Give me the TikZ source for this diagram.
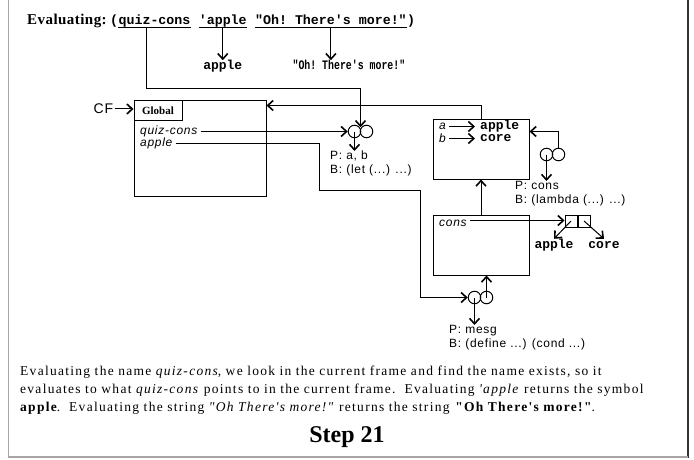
\documentclass[tikz,border=0pt]{standalone}
\usepackage{fontspec}
\newfontfamily\timesfont{Liberation Serif}
\setsansfont{Liberation Sans}
\setmonofont{Liberation Mono}
\usetikzlibrary{arrows.meta, positioning, calc}

\begin{document}
\begin{tikzpicture}[
    x=1pt, y=-1pt,
    envbox/.style={draw, line width=1pt, anchor=north west, inner sep=0pt},
    tag/.style={draw, line width=1pt, anchor=north west, font=\timesfont\bfseries\fontsize{11}{13}\selectfont, minimum width=48pt, minimum height=19pt, inner sep=0pt},
    var/.style={font=\sffamily\itshape\fontsize{12}{14}\selectfont\addfontfeature{LetterSpace=6}, inner sep=3pt, anchor=west},
    sym/.style={font=\ttfamily\bfseries\fontsize{13}{15}\selectfont, inner sep=0pt, text height=9pt, text depth=3pt},
    code/.style={font=\ttfamily\bfseries\fontsize{13.3}{15}\selectfont, inner sep=0pt, text height=9.5pt, text depth=2.5pt},
    ball/.style={draw, circle, line width=1pt, minimum size=12.5pt, inner sep=0pt},
    cell/.style={draw, line width=1pt, minimum size=12pt, inner sep=0pt},
    proc/.style={font=\sffamily\fontsize{12}{14}\selectfont\addfontfeature{LetterSpace=6}, align=left, anchor=north west, inner sep=0pt},
    arr/.style={-{Straight Barb[length=5.5pt,width=10pt,line width=1.6pt]}, line width=1pt}
]
    \useasboundingbox (0,0) rectangle (694,460);

    % page frame
    \draw[gray!70, line width=1pt] (8.5,-2) -- (8.5,457);
    \draw[black!80, line width=2pt] (688,-2) -- (688,458);
    \draw[gray!70, line width=2pt] (8,457) -- (688,457);

    % expression being evaluated
    \node[font=\timesfont\bfseries\fontsize{15}{17}\selectfont\addfontfeature{LetterSpace=3}, anchor=base west, inner sep=0pt] (evl) at (27,25) {Evaluating:};
    \node[code, anchor=base west] (lpar) at (110,25) {(};
    \node[code, right=0pt of lpar] (eqc) {quiz-cons};
    \node[code, right=8pt of eqc] (eap) {'apple};
    \node[code, right=8pt of eap] (eoh) {"Oh! There's more!"};
    \node[code, right=0pt of eoh] (rpar) {)};
    \foreach \n in {eqc, eap, eoh}
        \draw[line width=1pt] (\n.south west) -- (\n.south east);

    \node[sym, below=32.5pt of eap] (rap) {apple};
    \node[sym, font=\ttfamily\bfseries\fontsize{13}{15}\selectfont\addfontfeature{FakeStretch=0.76}, below=32.5pt of eoh, xshift=18pt] (roh) {"Oh! There's more!"};
    \draw[arr] (eap.south) -- (rap.north);
    \draw[arr] (eoh.south) -- (eoh.south |- roh.north);

    % global frame
    \node[envbox, minimum width=132pt, minimum height=95pt] (global) at (133.5,100.5) {};
    \node[tag] (gname) at (global.north west) {Global};
    \node[font=\sffamily\fontsize{14}{16}\selectfont\addfontfeature{LetterSpace=8}, inner sep=1pt, left=19pt of gname, yshift=1.5pt] (cf) {CF};
    \draw[arr] (cf) -- (cf -| gname.west);
    \node[var] (qc) at (137,131.5) {quiz-cons};
    \node[var] (ap) at (137,143.5) {apple};

    % procedure quiz-cons
    \node[ball] (p1l) at (354.5,131.5) {};
    \node[ball] (p1r) at (366.5,131.5) {};
    \node[proc] (p1lab) at (330,151) {P: a, b\\B: (let (...) ...)};
    \coordinate (p1top) at ($(p1l.north)!0.5!(p1r.north)+(0,2.5)$);
    \draw[arr] ([xshift=28.52pt]eqc.south west) -- ++(0,61) -| (p1top);
    \draw[arr] (qc.east) -- (p1l.west);
    \draw[arr] (p1l.center) -- (p1l.center |- p1lab.north);

    % frame with a, b
    \node[envbox, minimum width=96pt, minimum height=60pt] (e1) at (432.5,118.5) {};
    \node[var] (va) at (436,126.5) {a};
    \node[sym, anchor=west] (vapple) at (480,126.5) {apple};
    \node[var] (vb) at (436,138.5) {b};
    \node[sym, anchor=west] (vcore) at (480,138.5) {core};
    \draw[arr, shorten >=5pt] (va) -- (vapple);
    \draw[arr, shorten >=5pt] (vb) -- (vcore);
    \draw[arr] (e1.north) |- ([yshift=-5pt]global.north east);

    % procedure cons
    \node[ball] (p3l) at (546.5,154.5) {};
    \node[ball] (p3r) at (558.5,154.5) {};
    \node[proc] (p3lab) at (515,181) {P: cons\\B: (lambda (...) ...)};
    \draw[arr] (p3r.north) |- ([yshift=-13pt]e1.north east);
    \draw[arr] (p3l.center) -- (p3l.center |- p3lab.north);

    % frame with cons
    \node[envbox, minimum width=96pt, minimum height=60pt] (e2) at (432.5,214.5) {};
    \node[var] (vcons) at (436,223) {cons};
    \draw[arr] (e2.north) -- (e1.south);

    % pair
    \node[cell, anchor=north west] (car) at (564.5,214.5) {};
    \node[cell, right=0pt of car] (cdr) {};
    \draw[arr] ([yshift=2.5pt]vcons.east) -- ([yshift=2.5pt]vcons.east -| car.west);
    \node[sym] (papple) at (554,245) {apple};
    \node[sym] (pcore) at (604,245) {core};
    \draw[arr] (car.center) -- (papple.north);
    \draw[arr] (cdr.center) -- (pcore.north);

    % procedure with mesg
    \node[ball] (p2l) at (474.5,297.5) {};
    \node[ball] (p2r) at (486.5,297.5) {};
    \node[proc] (p2lab) at (449,325) {P: mesg\\B: (define ...) (cond ...)};
    \draw[arr] (ap.east) -- (319.5,143.5) -- (319.5,190.5) -- (420.5,190.5) |- (p2l.west);
    \draw[arr] (p2r.center) -- (p2r.center |- e2.south);
    \draw[arr] (p2l.center) -- (p2l.center |- p2lab.north);

    % explanation
    \node[anchor=north west, inner sep=0pt, text width=665pt, align=left,
          font=\timesfont\fontsize{13.5}{18}\selectfont\addfontfeature{LetterSpace=9.5}] (expl) at (20,366)
        {Evaluating the name \textit{quiz-cons}, we look in the current frame and find the name exists, so it\\
         evaluates to what \textit{quiz-cons} points to in the current frame.\ \ Evaluating \textit{'apple} returns the symbol\\
         \textbf{apple}.\ \ Evaluating the string \textit{"Oh There's more!"} returns the string \textbf{"Oh There's more!"}.};
    \node[font=\timesfont\bfseries\fontsize{24}{28}\selectfont, inner sep=0pt] (step) at (347,437) {Step 21};
\end{tikzpicture}
\end{document}
